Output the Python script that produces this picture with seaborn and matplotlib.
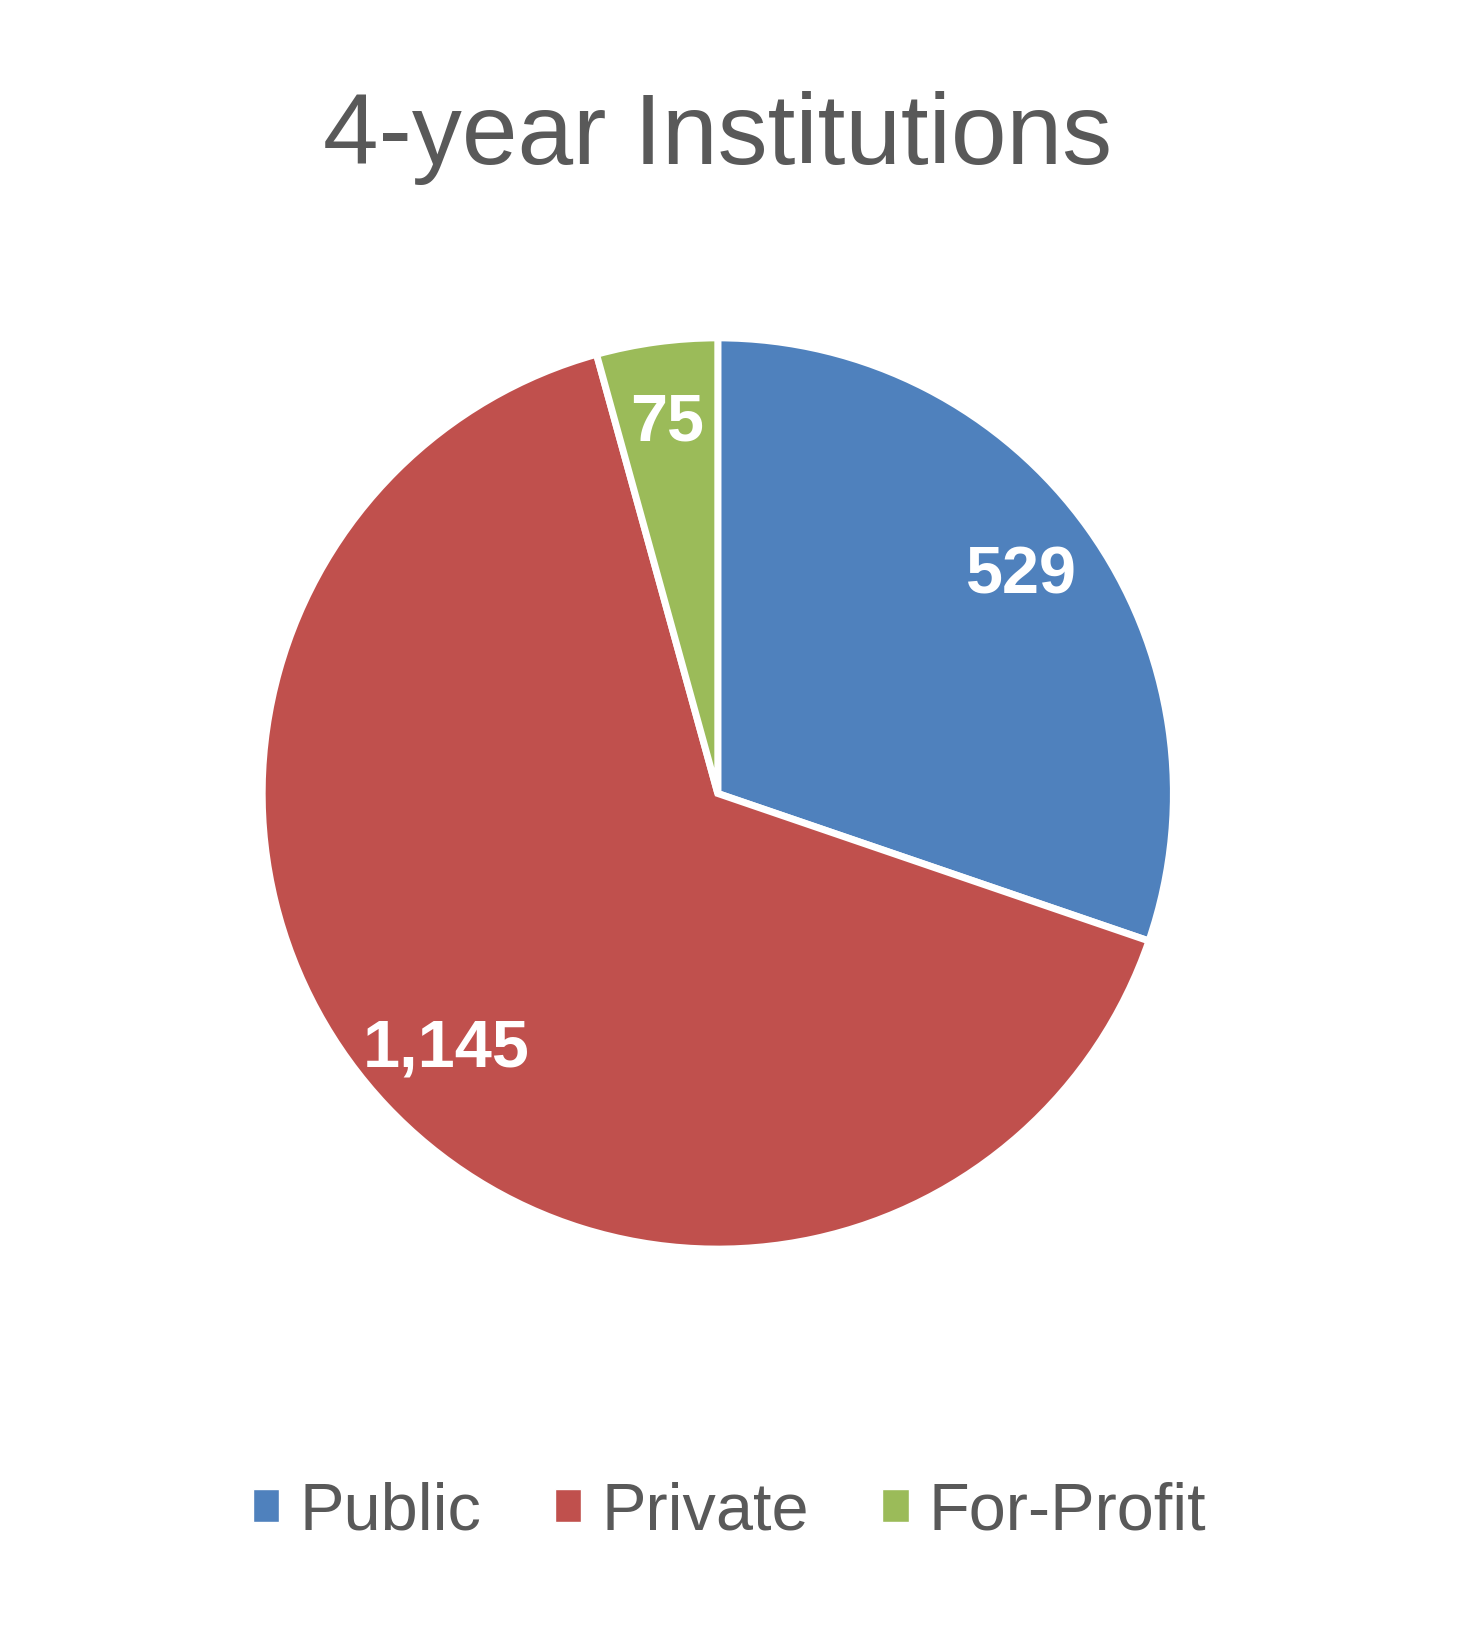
import matplotlib
matplotlib.use("Agg")
import matplotlib.pyplot as plt
import seaborn as sns
from matplotlib.patches import Patch

categories = ["Public", "Private", "For-Profit"]
counts = [529, 1145, 75]
colors = ["#4F81BD", "#C0504D", "#9BBB59"]

sns.set_theme(style="white")
plt.rcParams["font.family"] = ["Liberation Sans", "DejaVu Sans"]

fig = plt.figure(figsize=(14.8, 16.26), dpi=100)
ax = fig.add_axes([0.174, 0.229, 0.622, 0.566])

wedges, texts, autotexts = ax.pie(
    counts, colors=colors, startangle=90, counterclock=False,
    autopct=lambda p: f"{p * sum(counts) / 100:,.0f}", pctdistance=0.82,
    wedgeprops=dict(edgecolor="white", linewidth=5),
    textprops=dict(color="white", fontsize=48, fontweight="bold"),
)
ax.set_xlim(-1.01, 1.01)
ax.set_ylim(-1.01, 1.01)
ax.set_aspect("equal")

fig.text(0.485, 0.915, "4-year Institutions", ha="center", va="center",
         fontsize=72, color="#595959")

handles = [Patch(facecolor=c, label=l) for c, l in zip(colors, categories)]
fig.legend(handles=handles, loc="center", bbox_to_anchor=(0.493, 0.07), ncol=3,
           frameon=False, fontsize=48, handlelength=0.4, handleheight=0.4,
           handletextpad=0.3, columnspacing=1.1, labelcolor="#595959")

fig.savefig("out.png", dpi=100)
